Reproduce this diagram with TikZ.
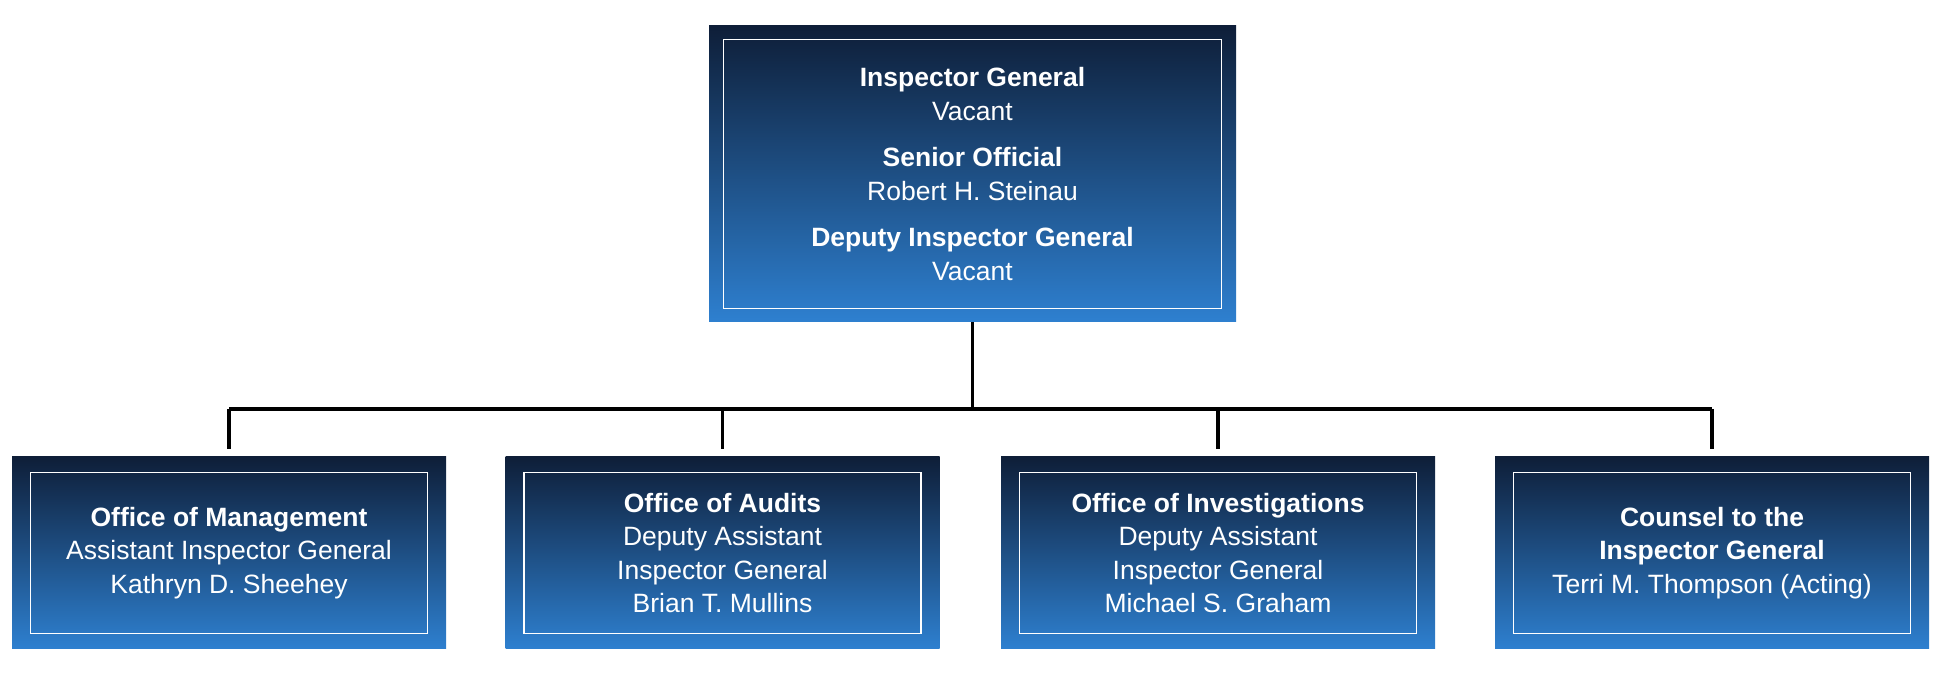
\documentclass[tikz,border=0pt]{standalone}
\usepackage{fontspec}
\setmainfont{Liberation Sans}
\usepackage{tikz}
\tikzset{every picture/.style={line width=0.75pt}}
\tikzset{
  office/.style={draw=none, top color={rgb,255:red,14;green,30;blue,56}, bottom color={rgb,255:red,46;green,128;blue,208},
    text=white, align=center, font=\fontsize{26.5}{33.5}\selectfont, inner sep=0pt},
  frame/.style={draw=white, line width=1.5pt},
  link/.style={line width=3.5pt}
}

\begin{document}
\begin{tikzpicture}[x=1pt,y=1pt]
	\useasboundingbox (0,0) rectangle (1947,684);
	
	%Top box
	\node [office, minimum width=527, minimum height=296] (ig) at (972.5,510) {\textbf{Inspector General}\\Vacant\\[13pt]\textbf{Senior Official}\\Robert H. Steinau\\[13pt]\textbf{Deputy Inspector General}\\Vacant};
	\draw [frame] ([shift={(15,-14)}]ig.north west) rectangle ([shift={(-15,14)}]ig.south east);
	
	%Offices
	\node [office, minimum width=434, minimum height=192] (mgmt) at (229,131) {\textbf{Office of Management}\\Assistant Inspector General\\Kathryn D. Sheehey};
	\node [office, minimum width=434, minimum height=192] (audit) at (722.5,131) {\textbf{Office of Audits}\\Deputy Assistant\\Inspector General\\Brian T. Mullins};
	\node [office, minimum width=434, minimum height=192] (invest) at (1218,131) {\textbf{Office of Investigations}\\Deputy Assistant\\Inspector General\\Michael S. Graham};
	\node [office, minimum width=434, minimum height=192] (counsel) at (1712,131) {\textbf{Counsel to the}\\\textbf{Inspector General}\\Terri M. Thompson (Acting)};
	\foreach \n in {mgmt,audit,invest,counsel}
		\draw [frame] ([shift={(19,-16)}]\n.north west) rectangle ([shift={(-19,16)}]\n.south east);
	
	%Connectors
	\coordinate (bar) at (ig.south |- 0,275);
	\draw [link] (ig.south) -- (bar);
	\draw [link] (mgmt.north |- bar) -- (counsel.north |- bar);
	\foreach \n in {mgmt,audit,invest,counsel}
		\draw [link] (\n.north |- bar) -- ([yshift=8]\n.north);
\end{tikzpicture}
\end{document}
